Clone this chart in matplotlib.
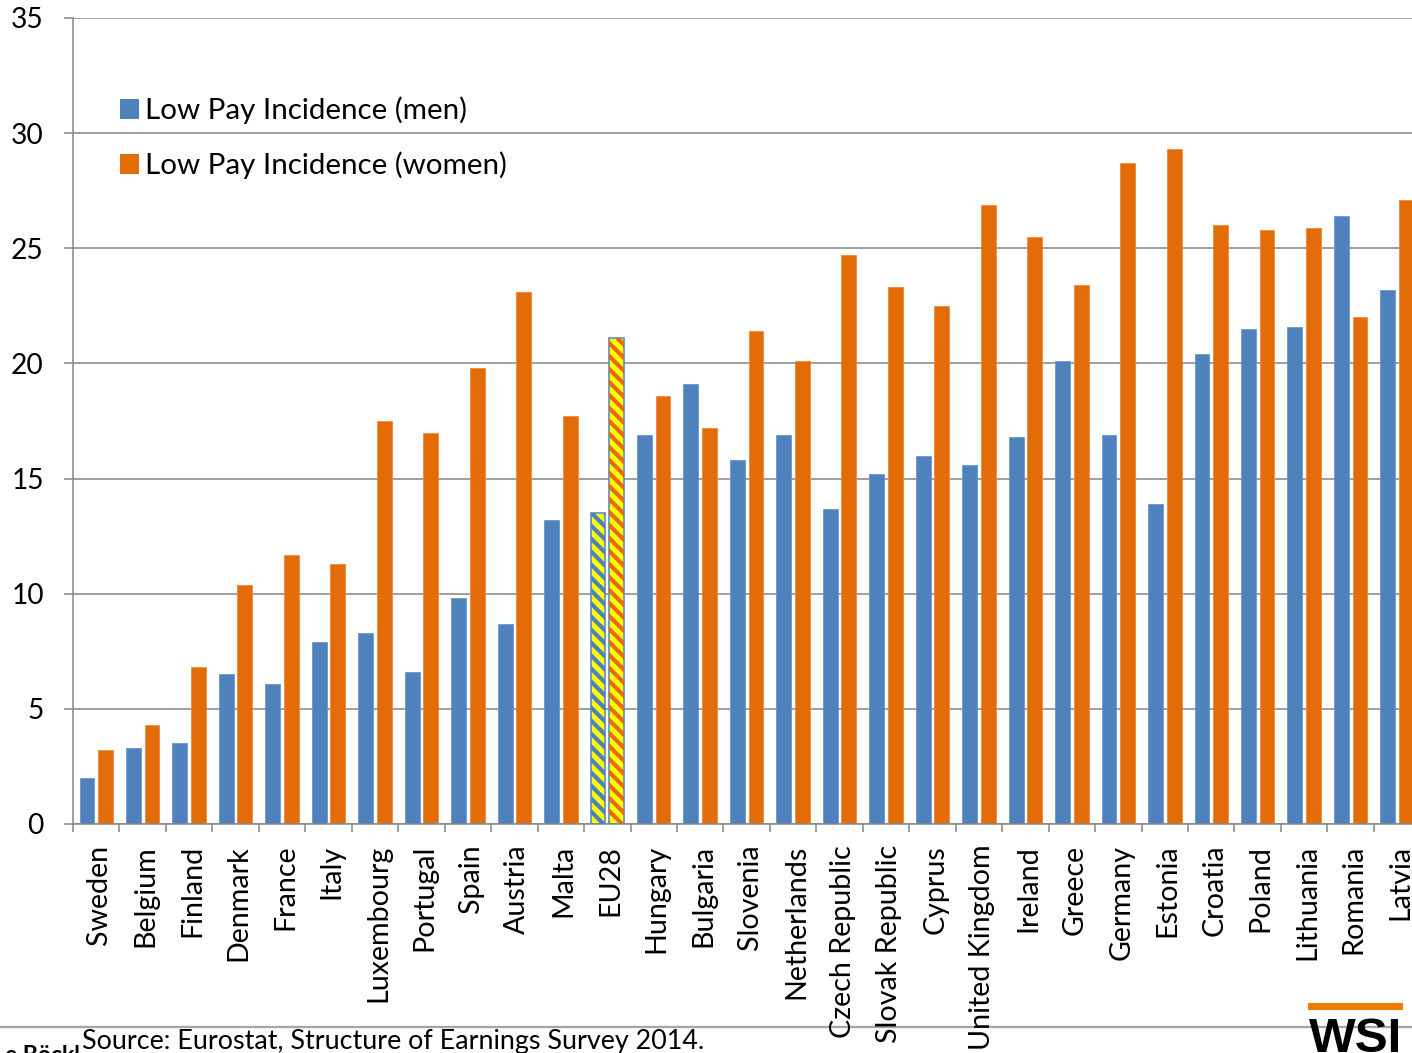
import numpy as np
import matplotlib
matplotlib.use("Agg")
import matplotlib.pyplot as plt
from matplotlib.patches import Patch, Rectangle
from matplotlib.lines import Line2D
from matplotlib.transforms import IdentityTransform, ScaledTranslation

# Low pay incidence by sex, 2014 (%)
countries = ["Sweden", "Belgium", "Finland", "Denmark", "France", "Italy",
             "Luxembourg", "Portugal", "Spain", "Austria", "Malta", "EU28",
             "Hungary", "Bulgaria", "Slovenia", "Netherlands", "Czech Republic",
             "Slovak Republic", "Cyprus", "United Kingdom", "Ireland", "Greece",
             "Germany", "Estonia", "Croatia", "Poland", "Lithuania", "Romania",
             "Latvia"]
men = [2.0, 3.3, 3.5, 6.5, 6.1, 7.9, 8.3, 6.6, 9.8, 8.7, 13.2, 13.5,
       16.9, 19.1, 15.8, 16.9, 13.7, 15.2, 16.0, 15.6, 16.8, 20.1,
       16.9, 13.9, 20.4, 21.5, 21.6, 26.4, 23.2]
women = [3.2, 4.3, 6.8, 10.4, 11.7, 11.3, 17.5, 17.0, 19.8, 23.1, 17.7, 21.1,
         18.6, 17.2, 21.4, 20.1, 24.7, 23.3, 22.5, 26.9, 25.5, 23.4,
         28.7, 29.3, 26.0, 25.8, 25.9, 22.0, 27.1]
y_ticks = [0, 5, 10, 15, 20, 25, 30, 35]
series_labels = ["Low Pay Incidence (men)", "Low Pay Incidence (women)"]
highlight = "EU28"

BLUE = "#4f81bd"
ORANGE = "#e36c09"
YELLOW = "#ffff00"
GRID = "#888888"
FONT = "Lato"
FS_TICK = 27
FS_CAT = 27.5
FS_LEG = 28.3

DPI = 75
W, H = 1412, 1053
plt.rcParams["font.family"] = [FONT, "DejaVu Sans"]

fig = plt.figure(figsize=(W / DPI, H / DPI), dpi=DPI)
fig.patch.set_facecolor("white")

n = len(countries)
cat_w = 46.46
ax = fig.add_axes([73 / W, (H - 824) / H, cat_w * n / W, 806 / H])
ax.set_xlim(-0.5, n - 0.5)
ax.set_ylim(0, 35)

x = np.arange(n)
bw = 0.32
off = 0.2
bars_m = ax.bar(x - off, men, bw, color=BLUE, edgecolor="#6d97ca",
                linewidth=0.8, zorder=2)
bars_w = ax.bar(x + off, women, bw, color=ORANGE, edgecolor="#eb8a3e",
                linewidth=0.8, zorder=2)

# EU average: yellow bars with diagonal stripes in the series colour
k = countries.index(highlight)
period = 13.0      # stripe repeat, pixels along x
stripe_lw = 4.0    # stripe thickness, points
for bars, stripe in ((bars_m, BLUE), (bars_w, ORANGE)):
    p = bars[k]
    p.set_facecolor(YELLOW)
    p.set_linewidth(0)
    (x0, y0), (x1, y1) = ax.transData.transform(
        [(p.get_x(), 0), (p.get_x() + p.get_width(), p.get_height())])
    h = y1 - y0
    for s in np.arange(x0 - h - period, x1 + period, period):
        ln = Line2D([s, s + h], [y1, y0], transform=IdentityTransform(),
                    color=stripe, linewidth=stripe_lw,
                    solid_capstyle="butt", zorder=2.5)
        ln.set_clip_path(p)
        fig.add_artist(ln)
    outline = Rectangle(p.get_xy(), p.get_width(), p.get_height(),
                        fill=False, edgecolor="#5b8cc8", linewidth=1.6,
                        zorder=3)
    ax.add_patch(outline)

# axes styling
for s in ("top", "right"):
    ax.spines[s].set_visible(False)
for s in ("left", "bottom"):
    ax.spines[s].set_color(GRID)
    ax.spines[s].set_linewidth(1.5)
ax.set_yticks(y_ticks)
ax.set_yticklabels([str(v) for v in y_ticks], fontsize=FS_TICK)
ax.yaxis.grid(True, color=GRID, linewidth=1.5)
ax.set_axisbelow(True)
ax.tick_params(axis="y", length=9, width=1.5, color=GRID, pad=19)

ax.set_xticks(np.arange(-0.5, n, 1.0))
ax.set_xticklabels([])
ax.set_xticks(x, minor=True)
ax.set_xticklabels(countries, minor=True, rotation=90, fontsize=FS_CAT,
                   va="top", ha="center")
ax.tick_params(axis="x", which="major", length=8, width=1.5, color=GRID)
ax.tick_params(axis="x", which="minor", length=0, pad=20)
shift = ScaledTranslation(3 / DPI, 0, fig.dpi_scale_trans)
for lab in ax.get_xticklabels(minor=True):
    lab.set_transform(lab.get_transform() + shift)

leg = ax.legend(handles=[Patch(color=BLUE), Patch(color=ORANGE)],
                labels=series_labels, loc="upper left",
                bbox_to_anchor=(120 / W, 1 - 96 / H),
                bbox_transform=fig.transFigure, frameon=False,
                fontsize=FS_LEG, handlelength=0.62, handleheight=0.62,
                handletextpad=0.24, labelspacing=0.95, borderpad=0,
                borderaxespad=0)

# footer
fig.add_artist(Line2D([0, 1], [1 - 1027 / H] * 2, transform=fig.transFigure,
                      color="#a8a59d", linewidth=2.2, zorder=0))
fig.text(5 / W, -9 / H, "e Böckl", fontsize=22, fontweight="bold",
         ha="left", va="baseline")
fig.text(82 / W, 4 / H, "Source: Eurostat, Structure of Earnings Survey 2014.",
         fontsize=25.8, ha="left", va="baseline")

# logo
fig.add_artist(Rectangle((1308 / W, 1 - 1009 / H), 94 / W, 6 / H,
                         transform=fig.transFigure, color="#ef7d00"))
fig.text(1309 / W, 1 - 1052 / H, "WSI", fontsize=47.5,
         family="Liberation Sans", fontweight="bold",
         ha="left", va="baseline")

fig.savefig("out.png", dpi=DPI, facecolor="white")
